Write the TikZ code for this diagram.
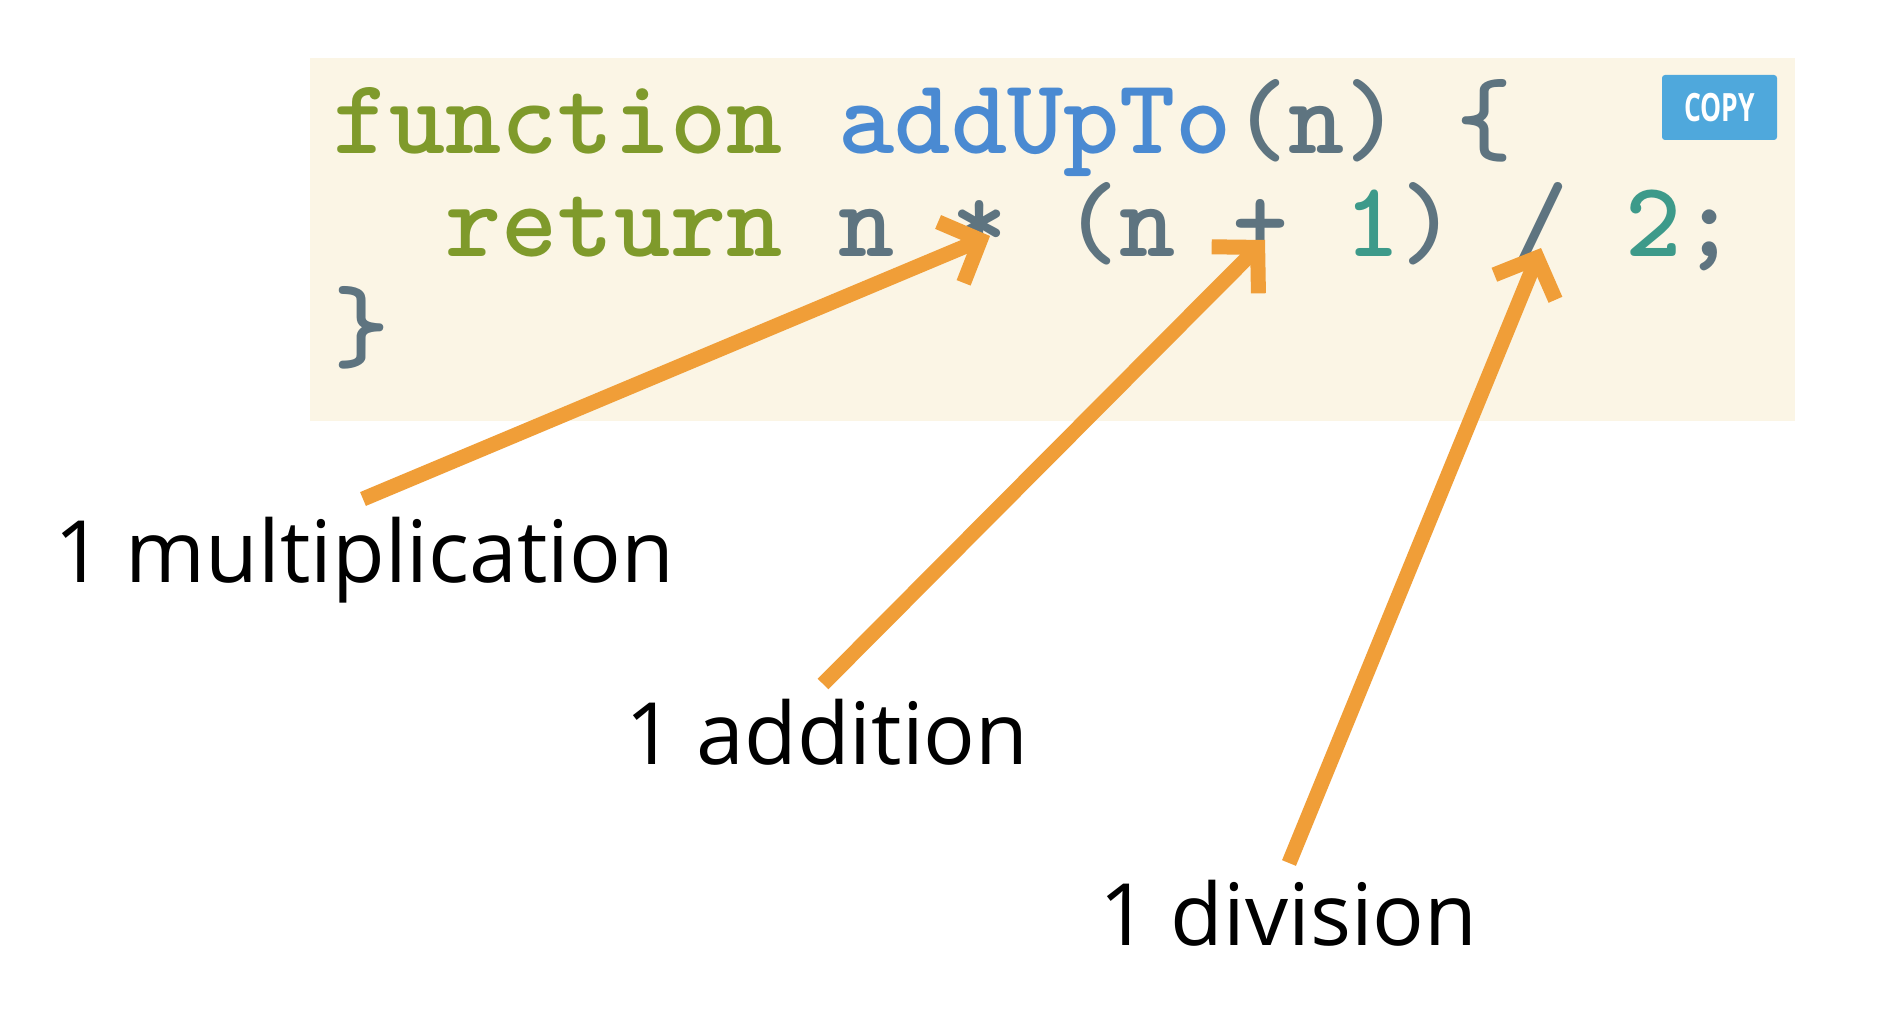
\documentclass[tikz,border=0pt]{standalone}
\usepackage{fontspec}
\newfontfamily\labelfont{Open Sans}
\usetikzlibrary{arrows.meta}
\definecolor{codebg}{HTML}{FBF5E5}
\definecolor{kw}{HTML}{7F9A2B}
\definecolor{fn}{HTML}{4A8AD2}
\definecolor{pl}{HTML}{5E7480}
\definecolor{num}{HTML}{3D9A8A}
\definecolor{arrowc}{HTML}{F09E38}
\definecolor{btn}{HTML}{4FA8DC}
\begin{document}
\begin{tikzpicture}[x=1pt,y=-1pt,
  code/.style={anchor=base west, inner sep=0pt, font=\fontsize{107}{107}\selectfont\ttfamily\bfseries},
  lbl/.style={anchor=base west, inner sep=0pt, font=\labelfont\fontsize{86}{86}\selectfont},
  pointer/.style={draw=arrowc, line width=15pt, -{Straight Barb[length=32pt,width=66pt]}}]
\fill[white] (0,0) rectangle (1898,1016);
\useasboundingbox (0,0) rectangle (1898,1016);
\fill[codebg] (310,58) rectangle (1795,421);
\node[fill=btn, rounded corners=3pt, minimum width=115pt, minimum height=65pt, inner sep=0pt] (copy) at (1719.5,107.5) {};
\node[text=white, font=\labelfont\bfseries\fontsize{39}{39}\selectfont, xscale=0.68] (copytxt) at (copy) {COPY};
\node[code] (l1) at (333,154) {\textcolor{kw}{function} \textcolor{fn}{addUpTo}\textcolor{pl}{(n) \{}};
\node[code] (l2) at (333,257) {\phantom{xx}\textcolor{kw}{return} \textcolor{pl}{n * (n + }\textcolor{num}{1}\textcolor{pl}{) / }\textcolor{num}{2}\textcolor{pl}{;}};
\node[code] (l3) at (333,360) {\textcolor{pl}{\}}};
\node[lbl] (mult) at (54,582) {1 multiplication};
\node[lbl] (add) at (625,764) {1 addition};
\node[lbl] (div) at (1099,945) {1 division};
\coordinate (mtail) at (363,499);
\coordinate (mhead) at (990,236);
\coordinate (atail) at (823,684);
\coordinate (ahead) at (1265,240);
\coordinate (dtail) at (1289,863);
\coordinate (dhead) at (1541,248);
\draw[pointer] (mtail) -- (mhead);
\draw[pointer] (atail) -- (ahead);
\draw[pointer] (dtail) -- (dhead);
\end{tikzpicture}
\end{document}
